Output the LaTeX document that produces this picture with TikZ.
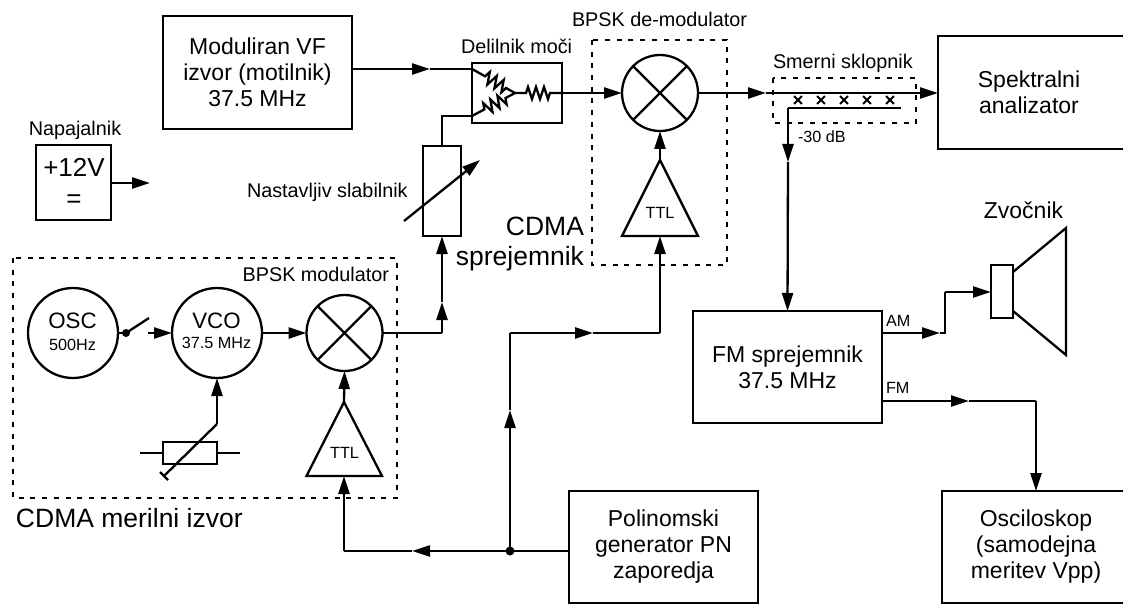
\documentclass[tikz,border=0pt]{standalone}
\usepackage{fontspec}
\setmainfont{Liberation Sans}
\usetikzlibrary{arrows.meta,decorations.pathmorphing,shapes.misc}
\newcommand{\fs}[1]{\fontsize{#1}{#1}\selectfont}
\tikzset{
  x=1pt,y=-1pt,
  ln/.style={line width=2.3pt,line join=miter},
  blk/.style={ln,draw,rectangle,inner sep=0pt,outer sep=0pt,align=center,font=\fs{23}\setlength{\baselineskip}{26pt}},
  rnd/.style={ln,draw,circle,inner sep=0pt,outer sep=0pt,minimum size=90pt},
  mix/.style={ln,draw,circle,inner sep=0pt,outer sep=0pt,minimum size=76pt},
  wire/.style={ln},
  tip/.style={ln,-{Triangle[length=18pt,width=11pt]}},
  dotbox/.style={line width=2.3pt,dash pattern=on 5pt off 6.7pt},
  lab/.style={anchor=base west,inner sep=0pt,outer sep=0pt,font=\fs{19.8}},
  small/.style={anchor=base west,inner sep=0pt,outer sep=0pt,font=\fs{16.2}},
  big/.style={anchor=base east,inner sep=0pt,outer sep=0pt,font=\fs{26.5}},
  res/.style={line width=2.3pt,decorate,decoration={zigzag,segment length=8pt,amplitude=6pt}},
  xmark/.style={cross out,draw,line width=1.8pt,inner sep=0pt,minimum size=6pt},
}
\begin{document}
\begin{tikzpicture}
\useasboundingbox (0,0) rectangle (1123,604);
% --- blocks
\node[blk,minimum width=188.5pt,minimum height=113pt] (mod) at (257.5,72.5) {Moduliran VF\\izvor (motilnik)\\37.5 MHz};
\node[blk,minimum width=75pt,minimum height=75pt] (psu) at (73.5,182.5) {};
\node[inner sep=0pt,anchor=base,font=\fs{26}] (v12) at (74,176) {+12V};
\node[inner sep=0pt,anchor=base,font=\fs{26}] (veq) at (74,207) {=};
\node[lab,anchor=base] (napaj) at (75,136) {Napajalnik};
\node[ln,draw,inner sep=0pt,outer sep=0pt,minimum width=90pt,minimum height=60pt] (div) at (517,93) {};
\node[lab] (divl) at (461,54) {Delilnik moči};
\node[lab] (bdem) at (572,27) {BPSK de-modulator};
\node[lab] (smer) at (773,69) {Smerni sklopnik};
\node[small] (m30) at (798,143) {-30 dB};
\node[lab] (nast) at (247,197) {Nastavljiv slabilnik};
\node[ln,draw,inner sep=0pt,outer sep=0pt,minimum width=38pt,minimum height=90pt] (att) at (442,191) {};
\node[big] (cdma) at (584,235) {CDMA};
\node[big] (sprj) at (584,265) {sprejemnik};
\node[big,anchor=base west] (cmer) at (16,527) {CDMA merilni izvor};
\node[lab,anchor=base east] (bmod) at (389,281) {BPSK modulator};
\node[blk,minimum width=189pt,minimum height=112pt] (fm) at (787.5,367) {FM sprejemnik\\37.5 MHz};
\node[blk,minimum width=189pt,minimum height=112pt] (pn) at (663.5,547) {Polinomski\\generator PN\\zaporedja};
\draw[ln] (1123,36) -- (938,36) -- (938,149) -- (1123,149);
\coordinate (spk) at (938,93);
\node[inner sep=0pt,align=center,font=\fs{23}\setlength{\baselineskip}{26pt}] (spkt) at (1029,92.5) {Spektralni\\analizator};
\draw[ln] (1123,491) -- (942,491) -- (942,603) -- (1123,603);
\coordinate (oscp) at (1036,491);
\node[inner sep=0pt,align=center,font=\fs{23}\setlength{\baselineskip}{26pt}] (osct) at (1036,547) {Osciloskop\\(samodejna\\meritev Vpp)};
% --- dotted frames
\draw[dotbox] (592,40) rectangle (727,265);
\draw[dotbox] (773,78) rectangle (916,123);
\draw[dotbox] (13,258) rectangle (397,498);
% --- mixers, oscillators
\node[mix] (mxd) at (660,93) {};
\draw[ln] (mxd.45) -- (mxd.225) (mxd.135) -- (mxd.-45);
\node[mix] (mxm) at (344.5,333) {};
\draw[ln] (mxm.45) -- (mxm.225) (mxm.135) -- (mxm.-45);
\node[rnd] (osc) at (73,333) {};
\node[rnd] (vco) at (217,333) {};
\node[inner sep=0pt,anchor=base,font=\fs{22.3}] (osct1) at (72.5,328) {OSC};
\node[inner sep=0pt,anchor=base,font=\fs{16.2}] (osct2) at (72.5,350) {500Hz};
\node[inner sep=0pt,anchor=base,font=\fs{22.3}] (vcot1) at (216.5,328) {VCO};
\node[inner sep=0pt,anchor=base,font=\fs{16.2}] (vcot2) at (216.5,348) {37.5 MHz};
% --- TTL buffers
\coordinate (ta) at (660,160); \coordinate (tl) at (622,236); \coordinate (tr) at (698,236); \coordinate (tb) at (660,236);
\draw[ln] (ta) -- (tr) -- (tl) -- cycle;
\node[inner sep=0pt,font=\fs{16.2}] (ttla) at (660,213) {TTL};
\coordinate (ua) at (344,402); \coordinate (ul) at (306.5,476); \coordinate (ur) at (382,476); \coordinate (ub) at (344,476);
\draw[ln] (ua) -- (ur) -- (ul) -- cycle;
\node[inner sep=0pt,font=\fs{16.2}] (ttlb) at (344.5,453) {TTL};
\draw[tip] (ta) -- (mxd.south);
\draw[tip] (ua) -- (mxm.south);
% --- source to divider
\coordinate (dv1) at (472,69); \coordinate (dv2) at (472,116); \coordinate (hub) at (515,93);
\coordinate (a1) at (430,69);
\draw[tip] (mod.east |- dv1) -- (a1);
\draw[wire] (a1) -- (dv1);
\draw[res,decoration={pre length=15pt,post length=9pt}] (dv1) -- (hub);
\draw[res,decoration={pre length=14pt,post length=9pt}] (dv2) -- (hub);
\draw[res,decoration={pre length=11pt,post length=11pt}] (hub) -- (div.east);
\draw[tip] (div.east) -- (mxd.west);
\coordinate (c1) at (442,116);
\draw[wire] (dv2) -- (c1) -- (att.north);
% --- attenuator slider
\coordinate (sl1) at (404,221); \coordinate (sl2) at (480,160);
\draw[tip] (sl1) -- (sl2);
% --- modulator chain
\coordinate (sw1) at (126,333); \coordinate (sw2) at (149,318); \coordinate (sw3) at (148,333);
\draw[wire] (osc.east) -- (sw1);
\fill (sw1) circle (4pt);
\draw[ln] (sw1) -- (sw2);
\draw[tip] (sw3) -- (vco.west);
\draw[tip] (vco.east) -- (mxm.west);
\coordinate (c2) at (442,333); \coordinate (a2) at (442,302);
\draw[wire] (mxm.east) -- (c2);
\draw[tip] (c2) -- (a2);
\draw[tip] (a2) -- (att.south);
% --- trimmer
\node[ln,draw,inner sep=0pt,outer sep=0pt,minimum width=54pt,minimum height=22pt] (pot) at (190,453) {};
\coordinate (pl) at (140,453); \coordinate (pr) at (240,453);
\draw[wire] (pl) -- (pot.west) (pot.east) -- (pr);
\coordinate (pc) at (217,424); \coordinate (pe) at (164,476); \coordinate (pt1) at (160,472); \coordinate (pt2) at (168,480);
\draw[wire] (pe) -- (pc);
\draw[wire] (pt1) -- (pt2);
\draw[tip] (pc) -- (vco.south);
% --- PN distribution
\coordinate (j) at (510,551); \coordinate (a3) at (412,551); \coordinate (c3) at (344,551);
\coordinate (a4) at (510,410); \coordinate (c4) at (510,333); \coordinate (a5) at (593,333); \coordinate (c5) at (660,333);
\draw[wire] (pn.west |- j) -- (j);
\draw[tip] (j) -- (a3);
\draw[wire] (a3) -- (c3);
\draw[tip] (c3) -- (ub);
\draw[tip] (j) -- (a4);
\draw[wire] (a4) -- (c4);
\draw[tip] (c4) -- (a5);
\draw[wire] (a5) -- (c5);
\draw[tip] (c5) -- (tb);
\fill (j) circle (4.5pt);
% --- coupler
\coordinate (a6) at (766,93);
\draw[tip] (mxd.east) -- (a6);
\draw[tip] (a6) -- (spk);
\coordinate (k1) at (901,108); \coordinate (k2) at (788,108); \coordinate (a7) at (788,162);
\draw[wire] (k1) -- (k2);
\draw[tip] (k2) -- (a7);
\draw[tip] (a7) -- (fm.north);
\foreach \i/\px in {1/798,2/821,3/844,4/867,5/890}
  \node[xmark] (x\i) at (\px,100) {};
% --- outputs
\node[small] (aml) at (886,326) {AM};
\node[small] (fml) at (886,393) {FM};
\coordinate (a8) at (940,333); \coordinate (c6) at (945,333); \coordinate (c7) at (945,292);
\node[ln,draw,inner sep=0pt,outer sep=0pt,minimum width=22pt,minimum height=53pt] (coil) at (1002,291.5) {};
\draw[tip] (fm.east |- a8) -- (a8);
\draw[wire] (a8) -- (c6) -- (c7);
\draw[tip] (c7) -- (coil.west |- c7);
\coordinate (cn1) at (1013,272); \coordinate (cn2) at (1066,228); \coordinate (cn3) at (1066,355); \coordinate (cn4) at (1013,311);
\draw[ln] (cn1) -- (cn2) -- (cn3) -- (cn4);
\node[inner sep=0pt,anchor=base,font=\fs{23}] (zv) at (1023.5,218) {Zvočnik};
\coordinate (a9) at (969,401); \coordinate (c8) at (1036,401);
\draw[tip] (fm.east |- a9) -- (a9);
\draw[wire] (a9) -- (c8);
\draw[tip] (c8) -- (oscp);
% --- power arrow
\coordinate (pw) at (150,183);
\draw[tip] (psu.east |- pw) -- (pw);
\end{tikzpicture}
\end{document}
